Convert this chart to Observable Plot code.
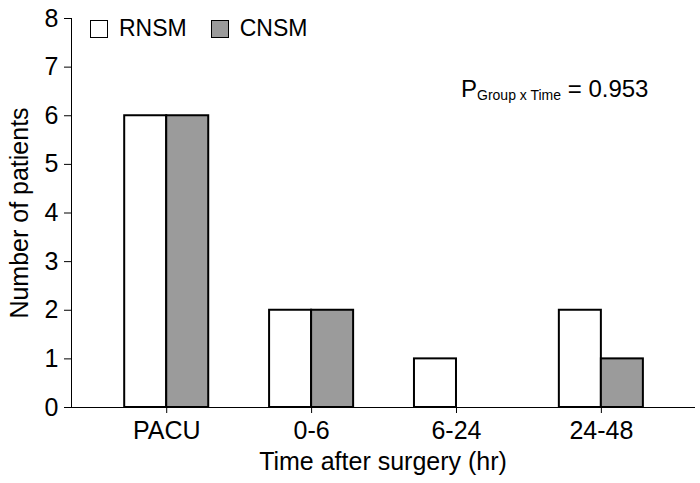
<!DOCTYPE html>
<html>
<head>
<meta charset="utf-8">
<script src="https://cdn.jsdelivr.net/npm/d3@7"></script>
<script src="https://cdn.jsdelivr.net/npm/@observablehq/plot@0.6"></script>
<style>
  html, body { margin: 0; padding: 0; background: #fff; }
  #wrap { position: relative; width: 700px; height: 483px; font-family: "Liberation Sans", Arial, sans-serif; color: #000; }
  #legend { position: absolute; left: 90px; top: 17px; display: flex; align-items: center; font-size: 23px; line-height: 1; }
  .sw { display: inline-block; width: 16px; height: 16px; border: 1.5px solid #000; box-sizing: content-box; }
  .lab { margin-left: 11px; margin-right: 24px; }
  #pval { position: absolute; left: 461px; top: 77px; font-size: 24px; line-height: 1; white-space: nowrap; }
  #pval sub { font-size: 14px; vertical-align: -3px; }
</style>
</head>
<body>
<div id="wrap">
  <div id="chart"></div>
  <div id="legend"></div>
  <div id="pval">P<sub>Group x Time</sub> = 0.953</div>
</div>
<script>
// ---- data ----
const times = ["PACU", "0-6", "6-24", "24-48"];
const groups = ["RNSM", "CNSM"];
const rnsmValues = [6, 2, 1, 2];
const cnsmValues = [6, 2, 0, 1];
const yTicks = [0, 1, 2, 3, 4, 5, 6, 7, 8];
const groupColors = ["#ffffff", "#9b9b9b"];

const rows = [];
times.forEach((t, i) => {
  rows.push({time: t, group: groups[0], value: rnsmValues[i]});
  rows.push({time: t, group: groups[1], value: cnsmValues[i]});
});

const base = {
  width: 700,
  height: 483,
  marginLeft: 71,
  marginRight: 6,
  marginTop: 18,
  marginBottom: 76,
  style: {fontSize: "25px", fontFamily: "'Liberation Sans', Arial, sans-serif", color: "#000", background: "#fff"},
  x: {domain: times, paddingInner: 0.42, paddingOuter: 0.36, align: 0.51, round: false, line: true,
      tickSize: 6, tickPadding: 8, label: "Time after surgery (hr)", labelAnchor: "center", labelOffset: 62, labelArrow: "none"},
  y: {domain: [0, 8], ticks: yTicks, line: true, tickSize: 7, tickPadding: 6,
      label: "Number of patients", labelAnchor: "center", labelOffset: 61, labelArrow: "none"},
  color: {domain: groups, range: groupColors}
};

// first pass to read the band width of the x scale
const probe = Plot.plot({...base, marks: [Plot.barY(rows, {x: "time", y: "value"})]});
const bw = probe.scale("x").bandwidth;

const chart = Plot.plot({
  ...base,
  marks: [
    Plot.barY(rows.filter(d => d.group === groups[0] && d.value > 0), {
      x: "time", y: "value", fill: "group", stroke: "#000", strokeWidth: 2, insetRight: bw / 2
    }),
    Plot.barY(rows.filter(d => d.group === groups[1] && d.value > 0), {
      x: "time", y: "value", fill: "group", stroke: "#000", strokeWidth: 2, insetLeft: bw / 2
    })
  ]
});
// strip any label arrows
d3.select(chart).selectAll("text").each(function() {
  const t = this.textContent;
  if (/[↑→]/.test(t)) this.textContent = t.replace(/\s*[↑→]\s*/g, "");
});
document.getElementById("chart").appendChild(chart);

// legend
const leg = document.getElementById("legend");
groups.forEach((g, i) => {
  const s = document.createElement("span");
  s.className = "sw";
  s.style.background = groupColors[i];
  const t = document.createElement("span");
  t.className = "lab";
  t.textContent = g;
  leg.appendChild(s);
  leg.appendChild(t);
});
</script>
</body>
</html>
